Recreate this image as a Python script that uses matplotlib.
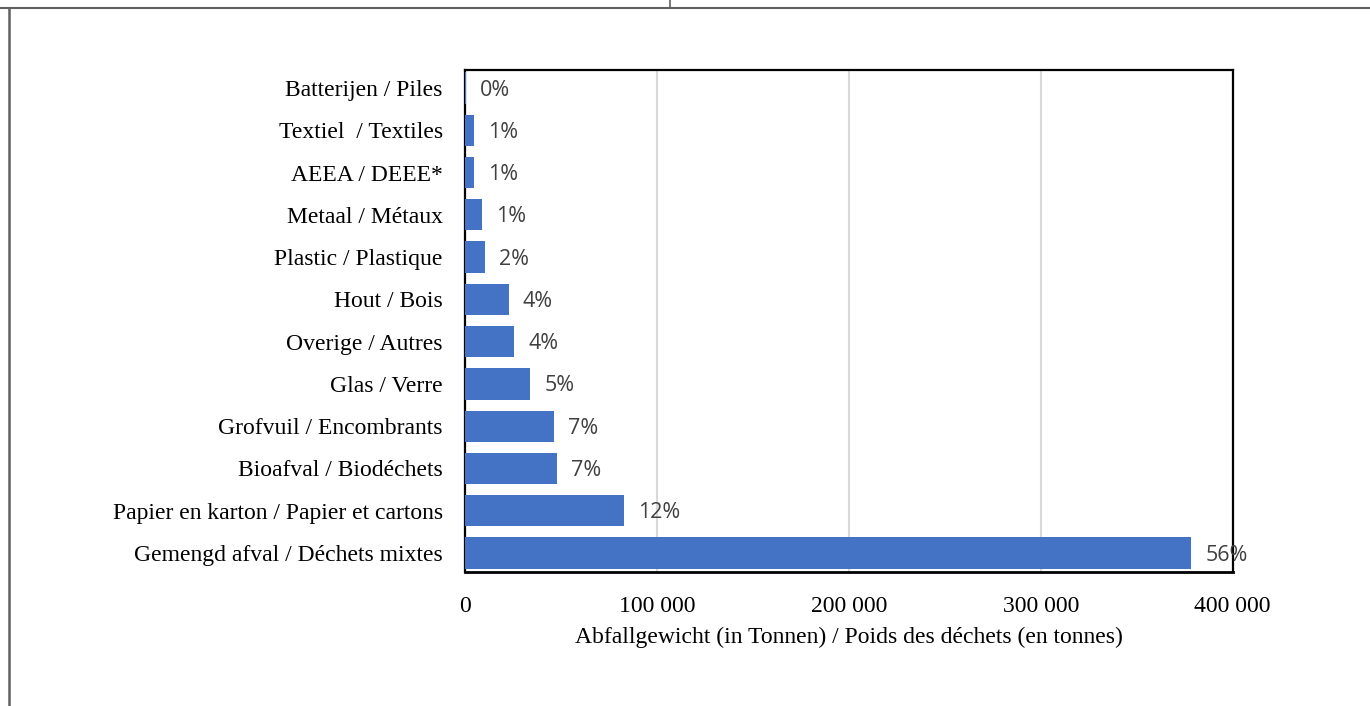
import matplotlib.pyplot as plt
from matplotlib.lines import Line2D
from matplotlib.ticker import FuncFormatter

# categories from bottom to top
categories = [
    'Gemengd afval / Déchets mixtes',
    'Papier en karton / Papier et cartons',
    'Bioafval / Biodéchets',
    'Grofvuil / Encombrants',
    'Glas / Verre',
    'Overige / Autres',
    'Hout / Bois',
    'Plastic / Plastique',
    'Metaal / Métaux',
    'AEEA / DEEE*',
    'Textiel  / Textiles',
    'Batterijen / Piles',
]
tonnes = [378500, 82700, 47900, 46500, 34000, 25700, 22900, 10400, 9000, 4800, 4800, 600]
shares = ['56%', '12%', '7%', '7%', '5%', '4%', '4%', '2%', '1%', '1%', '1%', '0%']
xticks = [0, 100000, 200000, 300000, 400000]

fig = plt.figure(figsize=(13.7, 7.06), dpi=100)
ax = fig.add_axes([0.3394, 0.1898, 0.5604, 0.711])

pos = list(range(len(categories)))
ax.barh(pos, tonnes, height=0.74, color='#4472C4', zorder=3)

for y, v, s in zip(pos, tonnes, shares):
    ax.annotate(s, (v, y), xytext=(10, -1.5), textcoords='offset points',
                ha='left', va='center', fontsize=15.5, color='#404040',
                family='Open Sans', zorder=4)

ax.set_xlim(0, 400000)
ax.set_ylim(-0.45, 11.425)
ax.set_xticks(xticks)
ax.xaxis.set_major_formatter(FuncFormatter(lambda v, p: f'{int(v):,}'.replace(',', ' ')))
ax.set_yticks(pos)
ax.set_yticklabels(categories)
ax.tick_params(axis='both', length=0, labelsize=17)
ax.tick_params(axis='y', pad=16)
ax.tick_params(axis='x', pad=17)
for lab in ax.get_xticklabels() + ax.get_yticklabels():
    lab.set_family('Liberation Serif')
ax.grid(axis='x', color='#d9d9d9', linewidth=1.5, zorder=0)
for sp in ax.spines.values():
    sp.set_color('black')
    sp.set_linewidth(1.6)
ax.spines['bottom'].set_linewidth(2)

ax.set_xlabel('Abfallgewicht (in Tonnen) / Poids des déchets (en tonnes)',
              family='Liberation Serif', fontsize=17, labelpad=7)

# page border fragments
W, H = 1370, 706
bc = '#606060'
fig.add_artist(Line2D([0, 1], [1 - 7.5 / H, 1 - 7.5 / H], color=bc, lw=1.5, transform=fig.transFigure))
fig.add_artist(Line2D([8.5 / W, 8.5 / W], [0, 1 - 7.5 / H], color=bc, lw=1.8, transform=fig.transFigure))
fig.add_artist(Line2D([670 / W, 670 / W], [1 - 7.5 / H, 1], color=bc, lw=1.2, transform=fig.transFigure))

fig.savefig('out.png', dpi=100, facecolor='white')
